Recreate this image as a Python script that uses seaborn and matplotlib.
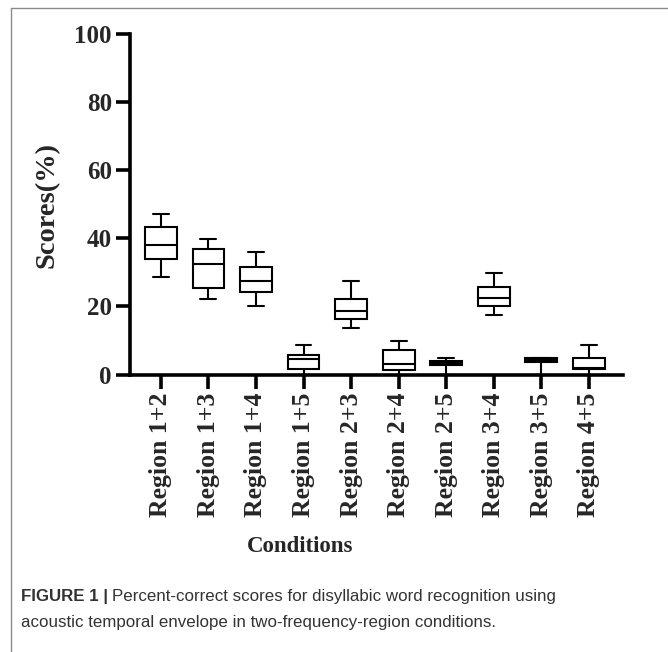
import numpy as np
import pandas as pd
import matplotlib.pyplot as plt
import matplotlib.lines as mlines
import seaborn as sns

# ── Data ──────────────────────────────────────────────────────────────────────
conditions   = ["Region 1+2", "Region 1+3", "Region 1+4", "Region 1+5", "Region 2+3",
                "Region 2+4", "Region 2+5", "Region 3+4", "Region 3+5", "Region 4+5"]
whisker_low  = [28.5, 22.3, 20.0, 0.0, 13.7, 0.0, 0.0, 17.5, 0.0, 0.0]
q1           = [34.0, 25.5, 24.1, 1.7, 16.4, 1.3, 2.7, 20.1, 3.7, 1.7]
median       = [38.0, 32.4, 27.5, 4.5, 18.6, 3.1, 3.3, 22.4, 4.3, 1.8]
q3           = [43.2, 36.8, 31.7, 5.7, 22.2, 7.2, 3.9, 25.8, 4.8, 4.9]
whisker_high = [47.2, 39.8, 36.1, 8.7, 27.4, 9.9, 4.9, 29.9, 4.8, 8.7]
y_ticks      = [0, 20, 40, 60, 80, 100]

# five values per condition -> seaborn reproduces min / q1 / median / q3 / max
rows = []
for i, c in enumerate(conditions):
    for v in (whisker_low[i], q1[i], median[i], q3[i], whisker_high[i]):
        rows.append({"Condition": c, "Score": v})
df = pd.DataFrame(rows)

# ── Style ─────────────────────────────────────────────────────────────────────
sns.set_theme(style="ticks")
plt.rcParams["font.family"] = ["Liberation Serif", "DejaVu Serif"]
serif = {"family": ["Liberation Serif", "DejaVu Serif"], "weight": "bold"}

fig = plt.figure(figsize=(6.68, 6.52), dpi=100)
ax = fig.add_axes([0.1946, 0.4256, 0.738, 0.5223])

sns.boxplot(data=df, x="Condition", y="Score", order=conditions,
            color="white", linecolor="black", linewidth=1.5, width=0.67,
            whis=(0, 100), saturation=1, ax=ax)

ax.set_xlim(-0.65, 9.72)
ax.set_ylim(0, 100)
ax.set_yticks(y_ticks)
ax.set_xlabel("")
ax.set_ylabel("")
sns.despine(ax=ax)
for s in ("left", "bottom"):
    ax.spines[s].set_linewidth(2.6)
    ax.spines[s].set_color("black")
ax.tick_params(axis="both", direction="out", length=10, width=2.6,
               color="black", pad=3)
ax.set_yticklabels([str(t) for t in y_ticks], fontdict={**serif, "size": 18})
ax.set_xticks(range(len(conditions)))
ax.set_xticklabels(conditions, rotation=90, fontdict={**serif, "size": 18.5})

# axis titles
fig.text(47 / 668, 1 - 205 / 652, "Scores(%)", rotation=90, ha="center",
         va="center", fontdict={**serif, "size": 20.5})
fig.text(300 / 668, 1 - 547 / 652, "Conditions", ha="center", va="center",
         fontdict={**serif, "size": 16.5})

# caption
sans = ["Liberation Sans", "DejaVu Sans"]
t1 = fig.text(21 / 668, 1 - 597 / 652, "FIGURE 1 |", ha="left", va="center",
              family=sans, weight="bold", size=12.2, color="#333333")
fig.canvas.draw()
bb = t1.get_window_extent().transformed(fig.transFigure.inverted())
fig.text(bb.x1 + 0.006, 1 - 597 / 652,
         "Percent-correct scores for disyllabic word recognition using",
         ha="left", va="center", family=sans, size=12.2, color="#333333")
fig.text(21 / 668, 1 - 623 / 652,
         "acoustic temporal envelope in two-frequency-region conditions.",
         ha="left", va="center", family=sans, size=12.2, color="#333333")

# frame lines (left and top)
fig.add_artist(mlines.Line2D([11 / 668, 11 / 668], [0, 1 - 8 / 652],
                             transform=fig.transFigure, color="#8a8a8a", lw=1))
fig.add_artist(mlines.Line2D([11 / 668, 1], [1 - 8 / 652, 1 - 8 / 652],
                             transform=fig.transFigure, color="#8a8a8a", lw=1))

fig.savefig("out.png", dpi=100)
